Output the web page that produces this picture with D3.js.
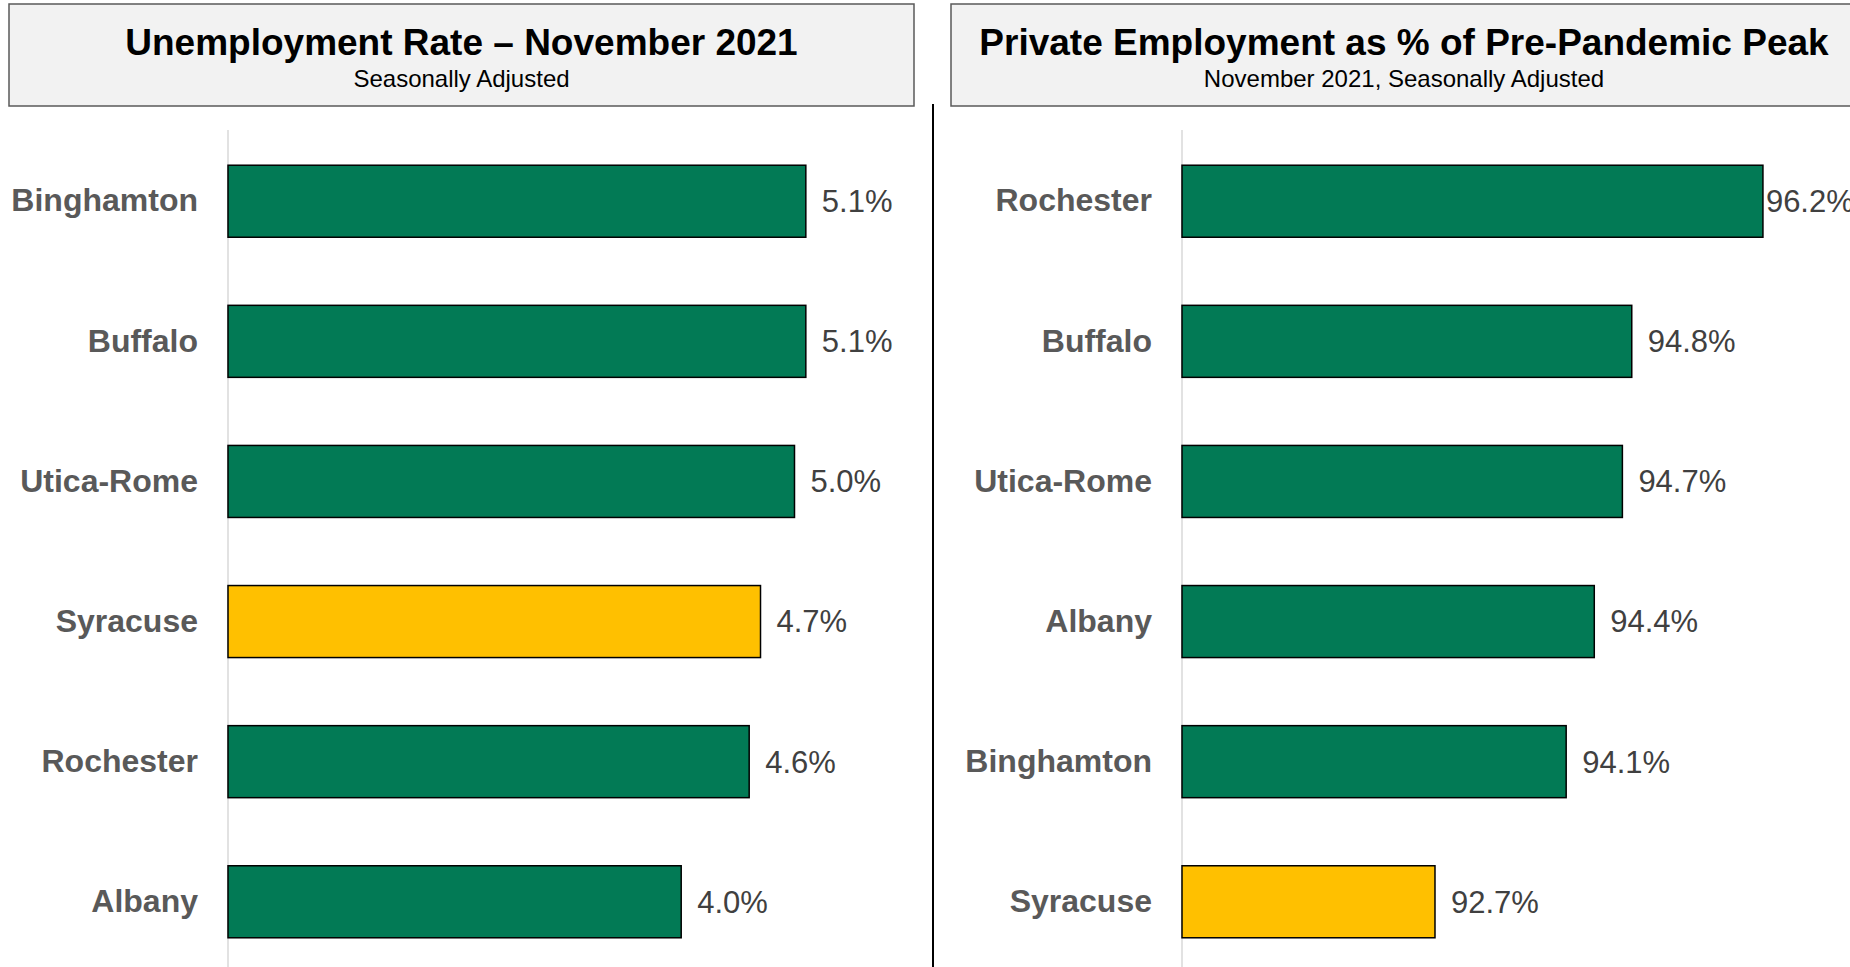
<!DOCTYPE html>
<html>
<head>
<meta charset="utf-8">
<script src="https://cdn.jsdelivr.net/npm/d3@7"></script>
<style>
  body { margin: 0; background: #fff; }
  svg { display: block; font-family: "Liberation Sans", Arial, sans-serif; }
</style>
</head>
<body>
<div id="my_dataviz"></div>
<script>
// data
const unempCities = ["Binghamton", "Buffalo", "Utica-Rome", "Syracuse", "Rochester", "Albany"];
const unempValues = [5.1, 5.1, 5.0, 4.7, 4.6, 4.0];

const empCities = ["Rochester", "Buffalo", "Utica-Rome", "Albany", "Binghamton", "Syracuse"];
const empValues = [96.2, 94.8, 94.7, 94.4, 94.1, 92.7];

const highlightCity = "Syracuse";

const width = 1850, height = 967;

const svg = d3.select("#my_dataviz")
  .append("svg")
    .attr("width", width)
    .attr("height", height);

// divider between the two panels
svg.append("line")
  .attr("x1", 933).attr("x2", 933)
  .attr("y1", 104).attr("y2", height)
  .attr("stroke", "#000")
  .attr("stroke-width", 2);

function drawPanel(opts) {
  const data = opts.cities.map((c, i) => ({city: c, value: opts.values[i]}));

  // title box
  svg.append("rect")
    .attr("x", opts.boxX)
    .attr("y", 4)
    .attr("width", opts.boxW)
    .attr("height", 102)
    .attr("fill", "#f2f2f2")
    .attr("stroke", "#595959")
    .attr("stroke-width", 1.5);

  const cx = opts.boxX + opts.boxW / 2;
  svg.append("text")
    .attr("x", cx)
    .attr("y", 55)
    .attr("text-anchor", "middle")
    .attr("font-size", "37px")
    .attr("font-weight", "bold")
    .attr("fill", "#000")
    .text(opts.title);

  svg.append("text")
    .attr("x", cx)
    .attr("y", 87)
    .attr("text-anchor", "middle")
    .attr("font-size", "24px")
    .attr("fill", "#000")
    .text(opts.subtitle);

  // scales
  const x = d3.scaleLinear()
    .domain(opts.domain)
    .range([opts.axisX, opts.axisX + opts.pxPerUnit * (opts.domain[1] - opts.domain[0])]);

  const y = d3.scaleBand()
    .domain(opts.cities)
    .range([133, 970])
    .paddingInner(0.486)
    .paddingOuter(0.23);

  // baseline axis
  svg.append("line")
    .attr("x1", x(opts.domain[0])).attr("x2", x(opts.domain[0]))
    .attr("y1", 130).attr("y2", height)
    .attr("stroke", "#d9d9d9")
    .attr("stroke-width", 1.5);

  // category labels
  const yAxis = svg.append("g")
    .attr("transform", `translate(${opts.axisX - 12}, 0)`)
    .call(d3.axisLeft(y).tickSize(0).tickPadding(18));
  yAxis.select(".domain").remove();
  yAxis.selectAll("text")
    .attr("font-family", "'Liberation Sans', Arial, sans-serif")
    .attr("font-size", "32px")
    .attr("font-weight", "bold")
    .attr("fill", "#595959");

  // bars
  svg.append("g")
    .selectAll("rect")
    .data(data)
    .join("rect")
      .attr("x", x(opts.domain[0]))
      .attr("y", d => y(d.city))
      .attr("width", d => x(d.value) - x(opts.domain[0]))
      .attr("height", y.bandwidth())
      .attr("fill", d => d.city === highlightCity ? "#ffc000" : "#027a55")
      .attr("stroke", "#000")
      .attr("stroke-width", 1.5);

  // value labels
  svg.append("g")
    .selectAll("text")
    .data(data)
    .join("text")
      .attr("x", d => Math.min(x(d.value) + 16, x.range()[1] - 72))
      .attr("y", d => y(d.city) + y.bandwidth() / 2)
      .attr("dy", "0.35em")
      .attr("font-size", "31px")
      .attr("fill", "#404040")
      .text(d => d.value.toFixed(1) + "%");
}

drawPanel({
  cities: unempCities,
  values: unempValues,
  title: "Unemployment Rate \u2013 November 2021",
  subtitle: "Seasonally Adjusted",
  boxX: 9, boxW: 905,
  axisX: 228,
  domain: [0, 6],
  pxPerUnit: 113.3
});

drawPanel({
  cities: empCities,
  values: empValues,
  title: "Private Employment as % of Pre-Pandemic Peak",
  subtitle: "November 2021, Seasonally Adjusted",
  boxX: 951, boxW: 906,
  axisX: 1182,
  domain: [90, 97],
  pxPerUnit: 93.7
});
</script>
</body>
</html>
